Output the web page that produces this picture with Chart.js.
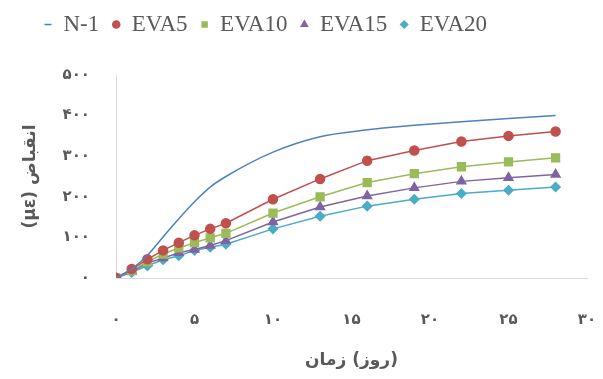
<!DOCTYPE html>
<html>
<head>
<meta charset="utf-8">
<script src="https://cdn.jsdelivr.net/npm/chart.js@4/dist/chart.umd.min.js"></script>
<style>
  html, body { margin: 0; padding: 0; background: #fff; }
  #wrap { width: 603px; height: 379px; }
</style>
</head>
<body>
<div id="wrap"><canvas id="shrinkChart"></canvas></div>
<script>
// days and shrinkage (micro strain)
const days = [0, 1, 2, 3, 4, 5, 6, 7, 10, 13, 16, 19, 22, 25, 28];
const n1 = [0, 22, 56, 101, 146, 188, 224, 250, 310, 348, 365, 376, 385, 393, 400];
const eva5 = [0, 22, 46, 68, 87, 105, 121, 135, 194, 244, 289, 314, 336, 350, 361];
const eva10 = [0, 18, 40, 59, 74, 87, 99, 110, 160, 200, 235, 257, 274, 286, 296];
const eva15 = [0, 16, 37, 49, 62, 70, 80, 92, 138, 175, 202, 222, 238, 247, 255];
const eva20 = [0, 14, 30, 45, 55, 68, 76, 83, 121, 152, 177, 194, 208, 216, 224];

const seriesNames = ['N-1', 'EVA5', 'EVA10', 'EVA15', 'EVA20'];
const xTicks = [0, 5, 10, 15, 20, 25, 30];
const yTicks = [0, 100, 200, 300, 400, 500];

const faDigits = '۰۱۲۳۴۵۶۷۸۹';
function toFa(v) {
    return String(v).replace(/[0-9]/g, d => faDigits[d]);
}

function pts(values) {
    return days.map((d, i) => ({ x: d, y: values[i] }));
}

const grey = '#595959';
const axisCol = '#d9d9d9';

// legend: fixed height (leaves room above plot) and nudged left like the original
const legendTweak = {
    id: 'legendTweak',
    beforeLayout(chart) {
        const lg = chart.legend;
        if (lg && !lg._tweaked) {
            const fit = lg.fit;
            lg.fit = function() {
                fit.call(this);
                this.height = 75;
            };
            lg._tweaked = true;
        }
    },
    afterLayout(chart) {
        chart.legend.left -= 28;
        chart.legend.right -= 28;
    }
};

const ctx = document.getElementById('shrinkChart');
new Chart(ctx, {
    type: 'line',
    data: {
        datasets: [{
            label: seriesNames[0],
            data: pts(n1),
            borderColor: '#4F81BD',
            backgroundColor: '#4F81BD',
            borderWidth: 1.5,
            pointRadius: 0,
            pointStyle: 'line',
            cubicInterpolationMode: 'monotone'
        }, {
            label: seriesNames[1],
            data: pts(eva5),
            borderColor: '#C0504D',
            backgroundColor: '#C0504D',
            borderWidth: 1.5,
            pointStyle: 'circle',
            pointRadius: 4.5
        }, {
            label: seriesNames[2],
            data: pts(eva10),
            borderColor: '#9BBB59',
            backgroundColor: '#9BBB59',
            borderWidth: 1.5,
            pointStyle: 'rect',
            pointRadius: 5.5
        }, {
            label: seriesNames[3],
            data: pts(eva15),
            borderColor: '#8064A2',
            backgroundColor: '#8064A2',
            borderWidth: 1.5,
            pointStyle: 'triangle',
            pointRadius: 5
        }, {
            label: seriesNames[4],
            data: pts(eva20),
            borderColor: '#4BACC6',
            backgroundColor: '#4BACC6',
            borderWidth: 1.5,
            pointStyle: 'rectRot',
            pointRadius: 4.5
        }]
    },
    options: {
        responsive: true,
        maintainAspectRatio: false,
        animation: false,
        layout: {
            padding: { top: 0, right: 16, left: 0, bottom: 0 }
        },
        plugins: {
            legend: {
                position: 'top',
                labels: {
                    usePointStyle: true,
                    boxWidth: 8,
                    boxHeight: 5,
                    padding: 13,
                    color: grey,
                    font: { family: 'Liberation Serif', size: 23 }
                }
            },
            tooltip: { enabled: false }
        },
        scales: {
            x: {
                type: 'linear',
                min: 0,
                max: 30,
                afterBuildTicks: s => { s.ticks = xTicks.map(v => ({ value: v })); },
                afterFit: s => {
                    s.height = 101;
                    s.paddingLeft = 0;
                    s.paddingRight = 0;
                },
                grid: { display: false, drawTicks: false },
                border: { display: true, color: axisCol, width: 1 },
                ticks: {
                    padding: 33,
                    color: grey,
                    font: { family: 'DejaVu Sans', size: 15, weight: 'bold' },
                    callback: v => toFa(v)
                },
                title: {
                    display: true,
                    text: 'زمان\u200E (روز)\u200E',
                    color: grey,
                    padding: { bottom: 8 },
                    font: { family: 'DejaVu Sans', size: 17, weight: 'bold' }
                }
            },
            y: {
                min: 0,
                max: 500,
                afterBuildTicks: s => { s.ticks = yTicks.map(v => ({ value: v })); },
                afterFit: s => {
                    s.width = 116;
                    s.paddingTop = 10;
                    s.paddingBottom = 0;
                },
                grid: { display: false, drawTicks: false },
                border: { display: true, color: axisCol, width: 1 },
                ticks: {
                    padding: 26,
                    color: grey,
                    font: { family: 'DejaVu Sans', size: 15, weight: 'bold' },
                    callback: v => toFa(v)
                },
                title: {
                    display: true,
                    text: '(με) انقباض',
                    color: grey,
                    padding: { top: 20 },
                    font: { family: 'DejaVu Sans', size: 17, weight: 'bold' }
                }
            }
        }
    },
    plugins: [legendTweak]
});
</script>
</body>
</html>
